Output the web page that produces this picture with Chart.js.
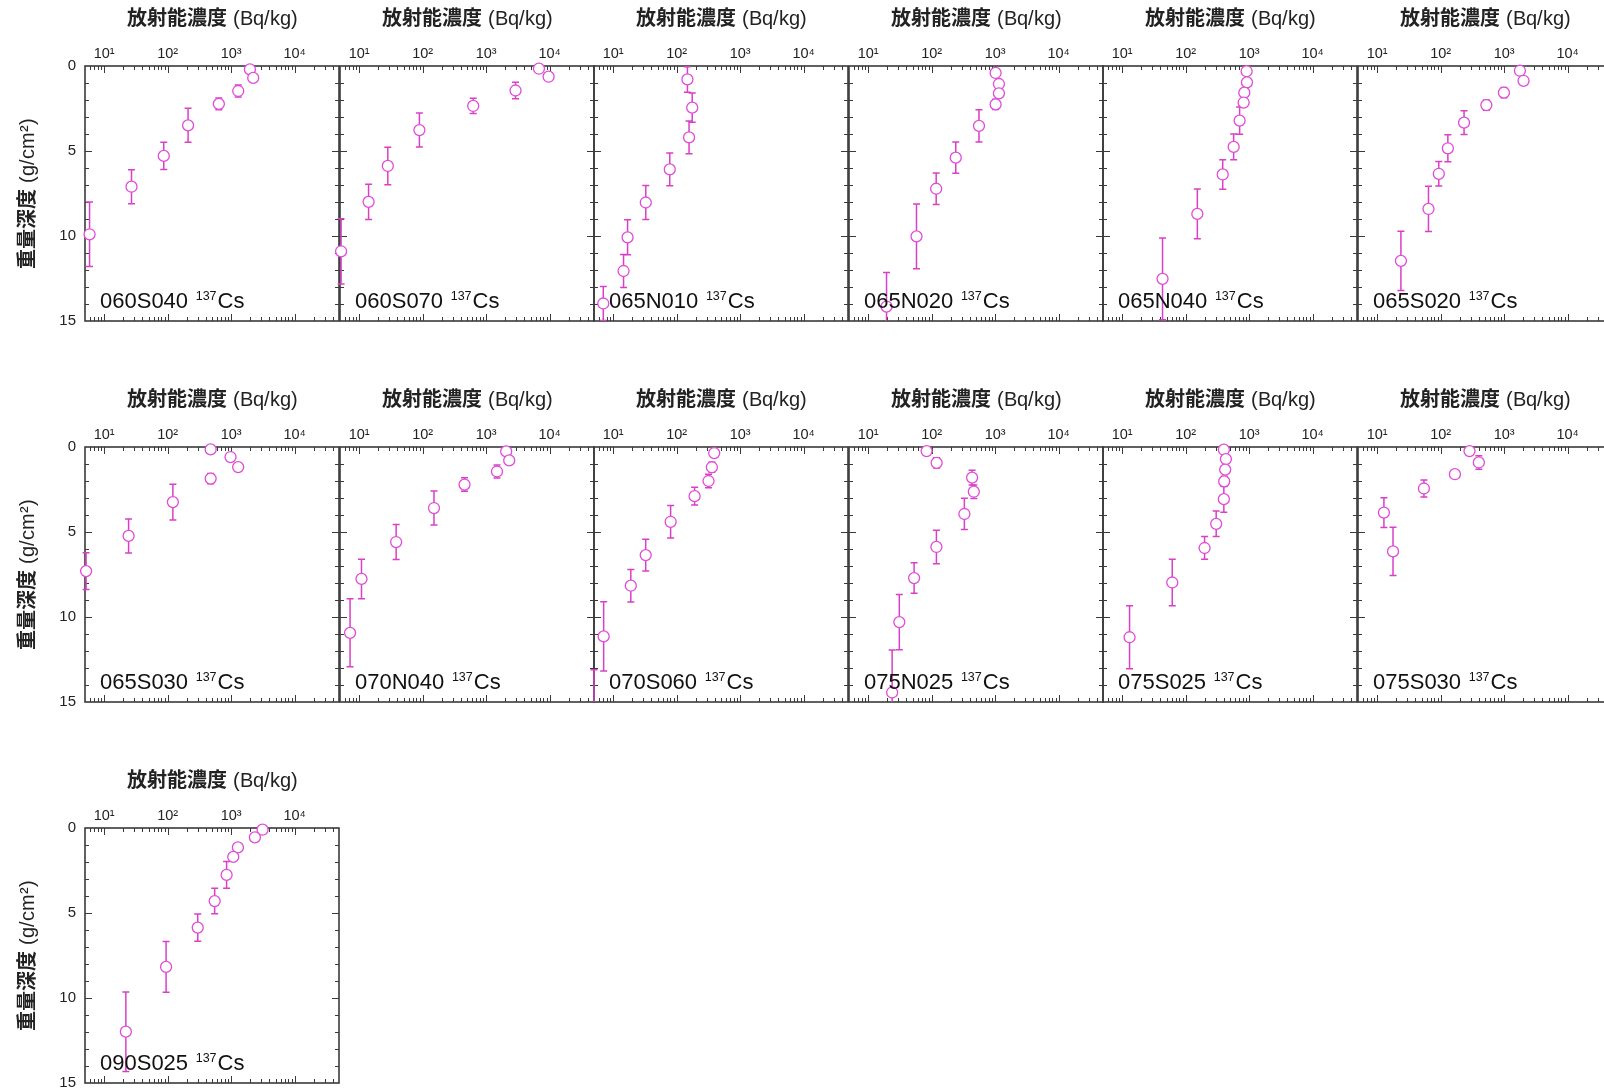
<!DOCTYPE html>
<html><head><meta charset="utf-8">
<script src="https://cdn.jsdelivr.net/npm/chart.js@4.4.1/dist/chart.umd.min.js"></script>
<style>
@font-face { font-family: 'TitleMix'; src: local('Liberation Sans'), local('LiberationSans'); unicode-range: U+0000-024F; }
@font-face { font-family: 'TitleMix'; src: local('Noto Sans CJK JP Bold'), local('NotoSansCJKjp-Bold'); unicode-range: U+2E80-9FFF, U+F900-FAFF, U+FF00-FFEF; }
html,body{margin:0;padding:0;background:#fff;width:1604px;height:1088px;overflow:hidden;position:relative;}
canvas{position:absolute;}
</style></head><body>
<script>
// ---------------- DATA ----------------
const xTickValues = [10, 100, 1000, 10000];
const xTickLabels = ['10¹', '10²', '10³', '10⁴'];
const yTickValues = [0, 5, 10, 15];
const xTitle = '放射能濃度 (Bq/kg)';
const yTitle = '重量深度 (g/cm²)';
const nuclideMass = '137';
const nuclideSymbol = 'Cs';

const conc_060S040 = [1977, 2230, 1294, 641, 210, 87, 27, 5.9];
const depth_060S040 = [0.2, 0.7, 1.47, 2.23, 3.49, 5.29, 7.1, 9.9];
const err_060S040 = [0, 0, 0.35, 0.35, 1.0, 0.8, 1.0, 1.9];

const conc_060S070 = [6790, 9640, 2905, 626, 89, 28.3, 14.1, 5.2];
const depth_060S070 = [0.16, 0.63, 1.44, 2.35, 3.77, 5.88, 7.99, 10.9];
const err_060S070 = [0, 0, 0.48, 0.45, 1.0, 1.1, 1.04, 1.92];

const conc_065N010 = [148, 176, 157, 78, 32.7, 16.9, 14.6, 7.0];
const depth_065N010 = [0.79, 2.45, 4.2, 6.08, 8.03, 10.08, 12.06, 13.97];
const err_065N010 = [0.75, 0.86, 0.96, 0.96, 1.0, 1.03, 0.97, 1.0];

const conc_065N020 = [1018, 1148, 1148, 1018, 557, 240, 118, 57.8, 19.5];
const depth_065N020 = [0.41, 1.06, 1.61, 2.26, 3.52, 5.39, 7.22, 10.02, 14.15];
const err_065N020 = [0, 0, 0, 0.3, 0.95, 0.92, 0.93, 1.9, 2.0];

const conc_065N040 = [914, 925, 840, 820, 709, 571, 384, 153, 43.3];
const depth_065N040 = [0.31, 0.96, 1.57, 2.15, 3.21, 4.76, 6.38, 8.7, 12.52];
const err_065N040 = [0, 0, 0, 0, 0.8, 0.76, 0.87, 1.46, 2.4];

const conc_065S020 = [1774, 2023, 993, 525, 234, 130, 93.6, 64.4, 23.7];
const depth_065S020 = [0.28, 0.87, 1.57, 2.3, 3.33, 4.84, 6.34, 8.41, 11.46];
const err_065S020 = [0, 0, 0.3, 0.3, 0.7, 0.79, 0.72, 1.33, 1.74];

const conc_065S030 = [476, 979, 1291, 476, 121, 24.3, 5.2];
const depth_065S030 = [0.14, 0.59, 1.18, 1.86, 3.24, 5.23, 7.3];
const err_065S030 = [0, 0, 0, 0.3, 1.05, 1.0, 1.08];

const conc_070N040 = [2070, 2312, 1483, 457, 151, 38.3, 10.9, 7.2];
const depth_070N040 = [0.26, 0.79, 1.44, 2.21, 3.59, 5.59, 7.76, 10.93];
const err_070N040 = [0, 0, 0.38, 0.4, 1.0, 1.03, 1.16, 2.0];

const conc_070S060 = [391, 359, 318, 192, 80.5, 32.6, 19, 7.1, 5.0];
const depth_070S060 = [0.36, 1.19, 2.0, 2.89, 4.4, 6.36, 8.16, 11.14, 15.9];
const err_070S060 = [0, 0.3, 0.4, 0.52, 0.96, 0.94, 0.96, 2.03, 2.8];

const conc_075N025 = [83.4, 120, 434, 462, 328, 119, 53, 31, 23.9];
const depth_075N025 = [0.24, 0.93, 1.8, 2.63, 3.94, 5.88, 7.71, 10.3, 14.44];
const err_075N025 = [0, 0.3, 0.43, 0.4, 0.92, 0.99, 0.9, 1.63, 2.5];

const conc_075S025 = [400, 431, 420, 405, 400, 303, 199, 61.6, 13.1];
const depth_075S025 = [0.16, 0.71, 1.33, 2.02, 3.07, 4.52, 5.94, 7.97, 11.19];
const err_075S025 = [0, 0, 0, 0.3, 0.77, 0.75, 0.67, 1.37, 1.85];

const conc_075S030 = [285, 400, 168, 54.6, 12.8, 17.8];
const depth_075S030 = [0.24, 0.91, 1.6, 2.44, 3.86, 6.14];
const err_075S030 = [0, 0.4, 0, 0.5, 0.88, 1.42];

const conc_090S025 = [3126, 2367, 1280, 1081, 849, 551, 298, 94.6, 22];
const depth_090S025 = [0.1, 0.55, 1.14, 1.7, 2.76, 4.3, 5.86, 8.17, 11.98];
const err_090S025 = [0, 0, 0, 0, 0.79, 0.75, 0.8, 1.49, 2.34];

const panels = [
  {name: '060S040', conc: conc_060S040, depth: depth_060S040, err: err_060S040},
  {name: '060S070', conc: conc_060S070, depth: depth_060S070, err: err_060S070},
  {name: '065N010', conc: conc_065N010, depth: depth_065N010, err: err_065N010},
  {name: '065N020', conc: conc_065N020, depth: depth_065N020, err: err_065N020},
  {name: '065N040', conc: conc_065N040, depth: depth_065N040, err: err_065N040},
  {name: '065S020', conc: conc_065S020, depth: depth_065S020, err: err_065S020},
  {name: '065S030', conc: conc_065S030, depth: depth_065S030, err: err_065S030},
  {name: '070N040', conc: conc_070N040, depth: depth_070N040, err: err_070N040},
  {name: '070S060', conc: conc_070S060, depth: depth_070S060, err: err_070S060},
  {name: '075N025', conc: conc_075N025, depth: depth_075N025, err: err_075N025},
  {name: '075S025', conc: conc_075S025, depth: depth_075S025, err: err_075S025},
  {name: '075S030', conc: conc_075S030, depth: depth_075S030, err: err_075S030},
  {name: '090S025', conc: conc_090S025, depth: depth_090S025, err: err_090S025}
];

// ---------------- STYLE / LAYOUT ----------------
const MARKER = '#e04cd8';
const BAR = '#d840c6';
const AXIS = '#3a3a3a';
const TEXT = '#222';
const FONT = "'Liberation Sans', 'Noto Sans CJK JP', sans-serif";
const TITLE_FONT = "'TitleMix', 'Liberation Sans', 'Noto Sans CJK JP', sans-serif";
const PW = 254, PH = 255;
const rowTops = [66, 447, 828];
Chart.defaults.font.family = FONT;

const decor = {
  id: 'decor',
  beforeDatasetsDraw(chart) {
    const {ctx, chartArea: a, scales: {x, y}} = chart;
    ctx.save();
    ctx.strokeStyle = AXIS;
    ctx.lineWidth = 1.6;
    ctx.strokeRect(a.left, a.top, a.right - a.left, a.bottom - a.top);
    ctx.lineWidth = 1;
    ctx.beginPath();
    for (let e = 0; e <= 4; e++) {
      for (let m = 1; m <= 9; m++) {
        const v = m * Math.pow(10, e);
        if (v <= 5 || v >= 50000) continue;
        const px = Math.round(x.getPixelForValue(v)) + 0.5;
        const len = m === 1 ? 7 : 4;
        ctx.moveTo(px, a.top); ctx.lineTo(px, a.top + len);
        ctx.moveTo(px, a.bottom); ctx.lineTo(px, a.bottom - len);
      }
    }
    for (let v = 1; v < 15; v++) {
      const py = Math.round(y.getPixelForValue(v)) + 0.5;
      const len = v % 5 === 0 ? 7 : 4;
      ctx.moveTo(a.left, py); ctx.lineTo(a.left + len, py);
      ctx.moveTo(a.right, py); ctx.lineTo(a.right - len, py);
    }
    ctx.stroke();
    ctx.beginPath();
    ctx.rect(a.left - 12, a.top - 12, a.right - a.left + 24, a.bottom - a.top + 12);
    ctx.clip();
    ctx.strokeStyle = BAR;
    ctx.lineWidth = 1.5;
    chart.data.datasets[0].data.forEach(pt => {
      if (!pt.e) return;
      const px = x.getPixelForValue(pt.x);
      const y1 = y.getPixelForValue(pt.y - pt.e);
      const y2 = y.getPixelForValue(pt.y + pt.e);
      ctx.beginPath();
      ctx.moveTo(px, y1); ctx.lineTo(px, y2);
      ctx.moveTo(px - 3.5, y1); ctx.lineTo(px + 3.5, y1);
      ctx.moveTo(px - 3.5, y2); ctx.lineTo(px + 3.5, y2);
      ctx.stroke();
    });
    ctx.restore();
  },
  afterDatasetsDraw(chart, args, opts) {
    const {ctx, chartArea: a} = chart;
    ctx.save();
    ctx.fillStyle = '#111';
    ctx.textBaseline = 'alphabetic';
    ctx.textAlign = 'left';
    let tx = a.left + 15;
    const ty = a.bottom - 13;
    ctx.font = "22px " + FONT;
    const t1 = opts.name + ' ';
    ctx.fillText(t1, tx, ty);
    tx += ctx.measureText(t1).width + 1.5;
    ctx.font = "12.5px " + FONT;
    ctx.fillText(nuclideMass, tx, ty - 8);
    tx += ctx.measureText(nuclideMass).width + 1;
    ctx.font = "22px " + FONT;
    ctx.fillText(nuclideSymbol, tx, ty);
    ctx.restore();
  }
};

function build() {
  panels.forEach((p, i) => {
    const r = Math.floor(i / 6), c = i % 6;
    const plotLeft = Math.round(85 + c * 254.5);
    const plotTop = rowTops[r];
    const padL = c === 0 ? 85 : 14, padR = 14, padT = 66, padB = 14;
    const W = padL + PW + padR, H = padT + PH + padB;
    const cv = document.createElement('canvas');
    cv.width = W; cv.height = H;
    cv.style.width = W + 'px'; cv.style.height = H + 'px';
    cv.style.left = (plotLeft - padL) + 'px';
    cv.style.top = (plotTop - padT) + 'px';
    document.body.appendChild(cv);

    const yScale = {
      type: 'linear', reverse: true, min: 0, max: 15, display: c === 0,
      grid: {display: false, drawTicks: false}, border: {display: false},
      afterBuildTicks: s => { s.ticks = yTickValues.map(v => ({value: v})); },
      ticks: {padding: 9, color: TEXT, font: {size: 15}},
      title: {display: true, text: yTitle, color: TEXT, font: {size: 20, family: TITLE_FONT}, padding: {top: 16, bottom: 0}}
    };
    if (c === 0) yScale.afterFit = s => { s.width = padL; s.paddingTop = 0; s.paddingBottom = 0; };

    const pad = {left: c === 0 ? 0 : padL, right: padR, top: 0, bottom: padB};
    const ch = new Chart(cv, {
      type: 'scatter',
      data: {
        datasets: [{
          data: p.conc.map((v, k) => ({x: v, y: p.depth[k], e: p.err[k]})),
          pointRadius: 5.5, pointHoverRadius: 5.5, pointBorderWidth: 1.3,
          pointBorderColor: MARKER, pointBackgroundColor: '#fff',
          showLine: false,
          clip: {left: 12, top: 12, right: 12, bottom: 0}
        }]
      },
      options: {
        responsive: false, animation: false, events: [],
        layout: {autoPadding: false, padding: pad},
        plugins: {legend: {display: false}, tooltip: {enabled: false}, decor: {name: p.name}},
        scales: {
          x: {
            type: 'logarithmic', position: 'top', min: 5, max: 50000,
            grid: {display: false, drawTicks: false}, border: {display: false},
            afterBuildTicks: s => { s.ticks = xTickValues.map(v => ({value: v})); },
            afterFit: s => { s.height = padT; },
            ticks: {autoSkip: false, maxRotation: 0, padding: 3, color: TEXT, font: {size: 14.5},
                    callback: v => { const k = xTickValues.indexOf(v); return k >= 0 ? xTickLabels[k] : ''; }},
            title: {display: true, text: xTitle, color: TEXT, font: {size: 20, family: TITLE_FONT}, padding: {top: 7, bottom: 0}}
          },
          y: yScale
        }
      },
      plugins: [decor]
    });
    const ca = ch.chartArea;
    const dB = (padT + PH) - ca.bottom;
    const dL = padL - ca.left;
    const dR = (padL + PW) - ca.right;
    if (Math.abs(dB) > 0.2 || Math.abs(dL) > 0.2 || Math.abs(dR) > 0.2) {
      ch.options.layout.padding = {left: pad.left + dL, right: pad.right - dR, top: 0, bottom: pad.bottom - dB};
      ch.update();
    }
  });
}

let built = false;
function buildOnce() { if (!built) { built = true; build(); } }
Promise.all([
  document.fonts.load("20px TitleMix", xTitle),
  document.fonts.load("20px TitleMix", yTitle)
]).then(buildOnce, buildOnce);
setTimeout(buildOnce, 1500);
</script>
</body></html>
